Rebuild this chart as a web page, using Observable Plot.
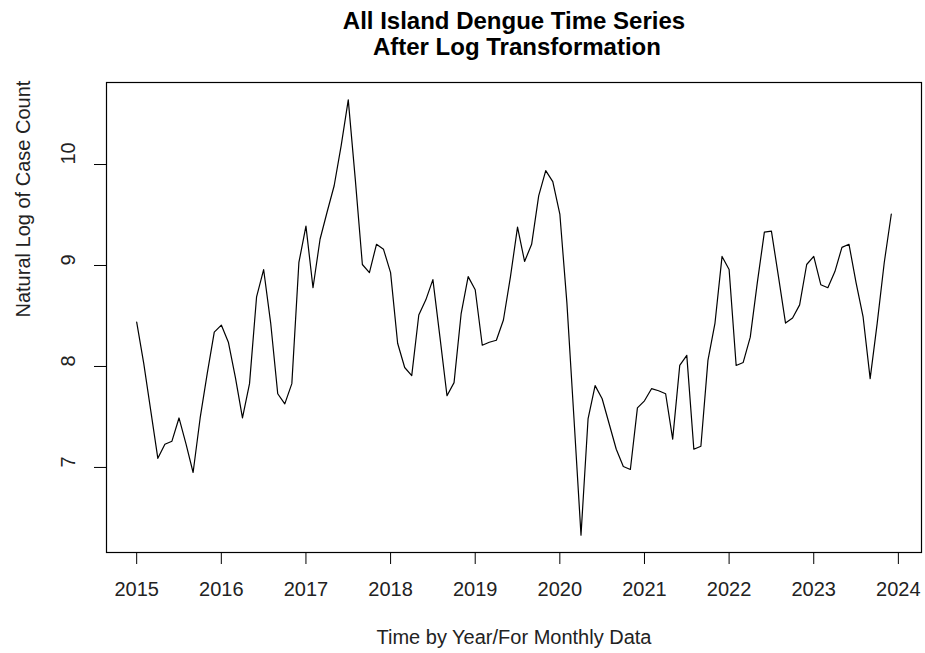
<!DOCTYPE html>
<html>
<head>
<meta charset="utf-8">
<script src="https://cdn.jsdelivr.net/npm/d3@7"></script>
<script src="https://cdn.jsdelivr.net/npm/@observablehq/plot@0.6"></script>
<style>
  html, body { margin: 0; padding: 0; background: #fff; }
</style>
</head>
<body>
<div id="chart"></div>
<script>
const startYear = 2015;
const logCases = [
  8.44, 8.03, 7.56, 7.09, 7.23, 7.26, 7.49, 7.23, 6.95, 7.49, 7.93, 8.34,
  8.41, 8.24, 7.89, 7.49, 7.83, 8.69, 8.96, 8.43, 7.73, 7.63, 7.83, 9.03,
  9.39, 8.78, 9.26, 9.53, 9.79, 10.19, 10.64, 9.85, 9.01, 8.93, 9.21, 9.16,
  8.93, 8.23, 7.99, 7.91, 8.51, 8.66, 8.86, 8.29, 7.71, 7.84, 8.52, 8.89,
  8.76, 8.21, 8.24, 8.26, 8.46, 8.89, 9.38, 9.04, 9.21, 9.69, 9.94, 9.83,
  9.51, 8.63, 7.49, 6.33, 7.48, 7.81, 7.68, 7.43, 7.18, 7.01, 6.98, 7.59,
  7.66, 7.78, 7.76, 7.73, 7.28, 8.01, 8.11, 7.18, 7.21, 8.06, 8.43, 9.09,
  8.96, 8.01, 8.04, 8.29, 8.83, 9.33, 9.34, 8.89, 8.43, 8.48, 8.61, 9.01,
  9.09, 8.81, 8.78, 8.94, 9.18, 9.21, 8.83, 8.49, 7.88, 8.43, 9.03, 9.51
];
const xTicks = [2015, 2016, 2017, 2018, 2019, 2020, 2021, 2022, 2023, 2024];
const yTicks = [7, 8, 9, 10];
const titleLines = ["All Island Dengue Time Series", " After Log Transformation"];
const xLabel = "Time by Year/For Monthly Data";
const yLabel = "Natural Log of Case Count";

const data = logCases.map((v, i) => ({t: startYear + i / 12, v}));

// R-style 4% axis extension
const tExt = d3.extent(data, d => d.t);
const vExt = d3.extent(data, d => d.v);
const tPad = (tExt[1] - tExt[0]) * 0.04;
const vPad = (vExt[1] - vExt[0]) * 0.04;

const font = "'Liberation Sans', Arial, Helvetica, sans-serif";

const chart = Plot.plot({
  width: 925,
  height: 653,
  marginLeft: 106,
  marginRight: 4,
  marginTop: 82,
  marginBottom: 101,
  style: {fontFamily: font, fontSize: "20px", color: "#000", background: "#fff"},
  x: {domain: [tExt[0] - tPad, tExt[1] + tPad]},
  y: {domain: [vExt[0] - vPad, vExt[1] + vPad]},
  marks: [
    Plot.frame({stroke: "#000", strokeWidth: 1.2}),
    Plot.axisX({ticks: xTicks, tickFormat: d => String(d), tickSize: 12, tickPadding: 17, label: null, fill: "#222", stroke: "#000", fontSize: 20}),
    Plot.axisY({ticks: yTicks, tickSize: 12, text: null, label: null, stroke: "#000"}),
    Plot.text(yTicks, {y: d => d, text: d => String(d), frameAnchor: "left", dx: -38, rotate: -90, fill: "#222", fontSize: 20}),
    Plot.line(data, {x: "t", y: "v", stroke: "#000", strokeWidth: 1.2}),
    Plot.text([titleLines[0]], {text: d => d, frameAnchor: "top", lineAnchor: "middle", dy: -61.4, fontWeight: "bold", fontSize: 24, fill: "#000"}),
    Plot.text([titleLines[1]], {text: d => d, frameAnchor: "top", lineAnchor: "middle", dy: -34.7, fontWeight: "bold", fontSize: 24, fill: "#000"}),
    Plot.text([xLabel], {text: d => d, frameAnchor: "bottom", lineAnchor: "middle", dy: 85, fontSize: 20, fill: "#222"}),
    Plot.text([yLabel], {text: d => d, frameAnchor: "left", dx: -83, rotate: -90, fontSize: 20, fill: "#222"})
  ]
});
document.getElementById("chart").appendChild(chart);
</script>
</body>
</html>
